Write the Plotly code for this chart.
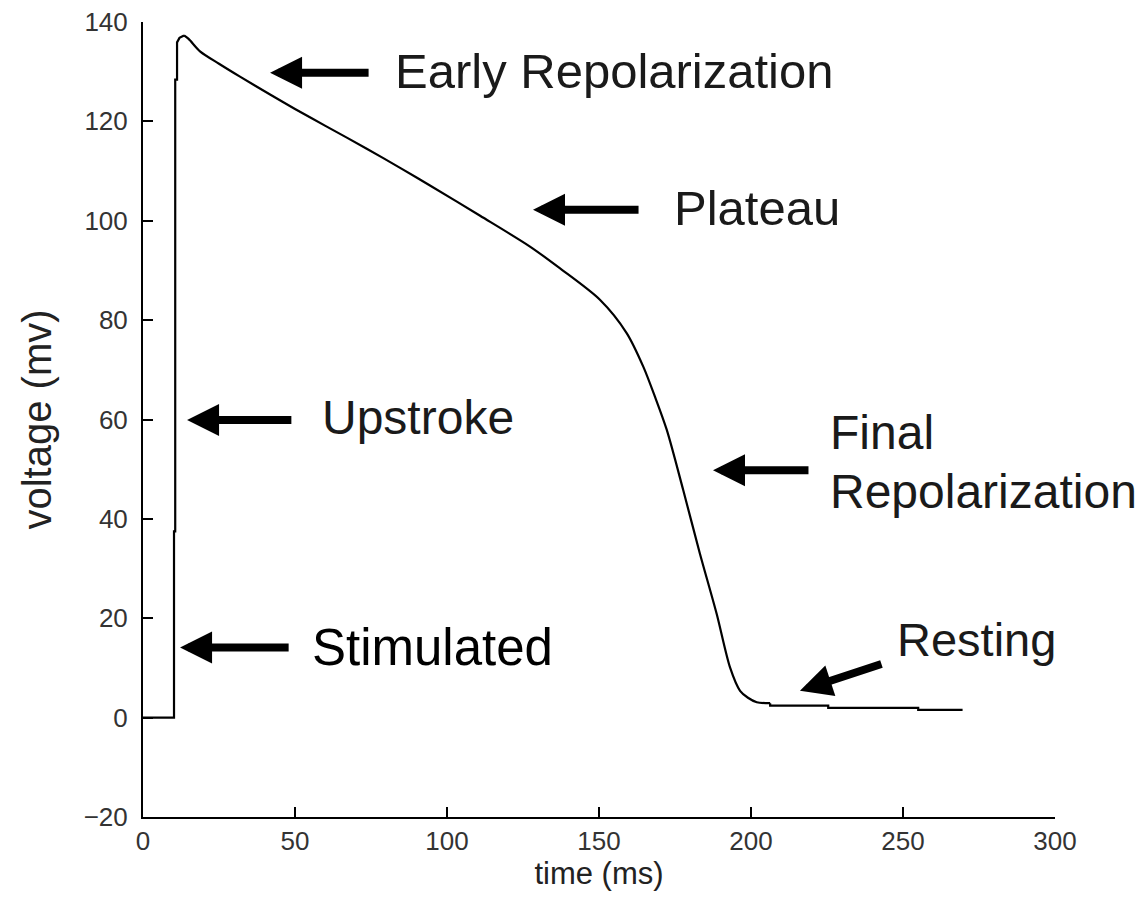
import plotly.graph_objects as go

# Action potential trace (time in ms, voltage in mV)
time_ms = [0, 10.2, 10.2, 10.6, 10.6, 11.2, 11.2, 12.0, 13.5, 15.0, 18.75, 25, 31.9, 41.8,
           50, 60, 73.6, 85, 94.4, 110.9, 127.3, 137.2, 150.3, 159.1, 164.6, 168.4, 172.3,
           177.7, 183.2, 188.7, 193.1, 196.4, 199, 201.9, 206.3, 206.3, 225.4, 225.4, 255,
           255, 269.6]
voltage_mv = [0, 0, 37.5, 37.5, 128.4, 128.4, 135.9, 136.8, 137.3, 136.6, 134.1, 131.6, 129.0,
              125.4, 122.5, 119.1, 114.5, 110.5, 107.1, 101.0, 94.8, 90.4, 84.1, 77.4, 70.6,
              64.6, 57.9, 45.8, 33.0, 20.9, 10.1, 5.4, 4.0, 3.1, 2.9, 2.4, 2.4, 1.95, 1.95,
              1.55, 1.55]

x_ticks = [0, 50, 100, 150, 200, 250, 300]
y_ticks = [-20, 0, 20, 40, 60, 80, 100, 120, 140]

# Phase labels: text, left x, centre y
label_text = ["Early Repolarization", "Plateau", "Upstroke", "Final", "Repolarization",
              "Stimulated", "Resting"]
label_x = [82.2, 174.0, 58.2, 225.3, 225.3, 54.9, 247.4]
label_y = [130.2, 102.6, 60.5, 57.3, 45.6, 14.2, 15.7]
label_size = [49, 49, 48, 48, 48, 51, 47]
label_color = ["#1a1a1a", "#1a1a1a", "#1a1a1a", "#1a1a1a", "#1a1a1a", "#000000", "#1a1a1a"]

# Arrows: tip (x, y) and tail (x, y)
arrow_tip_x = [41.8, 128.3, 14.5, 187.5, 12.2, 216.1]
arrow_tip_y = [129.8, 102.2, 59.9, 49.8, 14.1, 5.4]
arrow_tail_x = [74.7, 163.5, 49.3, 219.4, 48.4, 243.4]
arrow_tail_y = [129.8, 102.2, 59.9, 49.8, 14.1, 10.9]

# segments of the same series: steps drawn straight, smooth repolarisation as spline
segments = [(0, 9, "linear"), (8, 35, "spline"), (34, len(time_ms), "linear")]

fig = go.Figure()
for a, b, shape in segments:
    fig.add_trace(go.Scatter(x=time_ms[a:b], y=voltage_mv[a:b], mode="lines",
                             line=dict(color="black", width=2.2, shape=shape,
                                       smoothing=0.8 if shape == "spline" else None),
                             showlegend=False))

annotations = []
for tx, ty, ax, ay in zip(arrow_tip_x, arrow_tip_y, arrow_tail_x, arrow_tail_y):
    annotations.append(dict(x=tx, y=ty, ax=ax, ay=ay, xref="x", yref="y",
                            axref="x", ayref="y", text="", showarrow=True,
                            arrowhead=2, arrowsize=0.8, arrowwidth=8,
                            arrowcolor="black"))
for txt, x, y, s, c in zip(label_text, label_x, label_y, label_size, label_color):
    annotations.append(dict(x=x, y=y, xref="x", yref="y", text=txt, showarrow=False,
                            xanchor="left", yanchor="middle",
                            font=dict(family="Liberation Sans, Arial", size=s, color=c)))

axis_common = dict(showline=True, linecolor="black", linewidth=2, ticks="inside",
                   ticklen=10, tickwidth=2, tickcolor="black", showgrid=False,
                   zeroline=False, mirror=False, ticklabeloverflow="allow",
                   automargin=False,
                   tickfont=dict(family="Liberation Sans, Arial", size=26, color="#333333"))

fig.update_layout(
    width=1132, height=906,
    margin=dict(l=135, r=85, t=14, b=97),
    paper_bgcolor="white", plot_bgcolor="white",
    xaxis=dict(range=[0, 300], tickvals=x_ticks, ticklabelstandoff=0,
               title=dict(text="time (ms)", standoff=0,
                          font=dict(family="Liberation Sans, Arial", size=31, color="#222222")),
               **axis_common),
    yaxis=dict(range=[-20, 140], tickvals=y_ticks, ticklabelstandoff=8,
               title=dict(text="voltage (mv)", standoff=20,
                          font=dict(family="Liberation Sans, Arial", size=40, color="#222222")),
               **axis_common),
    annotations=annotations,
)

fig.write_html("out.html")
